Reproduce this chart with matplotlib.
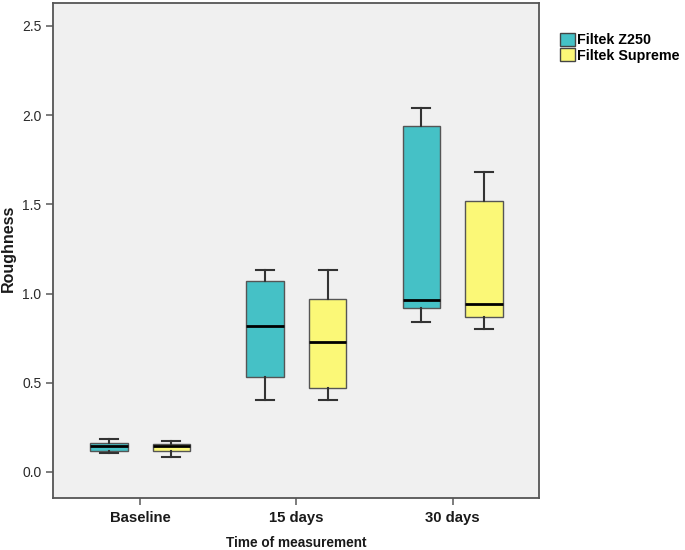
import matplotlib
matplotlib.use("Agg")
import matplotlib.pyplot as plt
from matplotlib.patches import Patch

plt.rcParams['font.family'] = ['Liberation Sans', 'DejaVu Sans']

categories = ["Baseline", "15 days", "30 days"]
series = ["Filtek Z250", "Filtek Supreme"]
colors = ["#45C1C6", "#FBF877"]

# per-category stats: (whislo, q1, med, q3, whishi)
z250 = [
    (0.105, 0.12, 0.145, 0.165, 0.185),
    (0.404, 0.533, 0.817, 1.071, 1.132),
    (0.842, 0.921, 0.966, 1.941, 2.042),
]
supreme = [
    (0.085, 0.12, 0.148, 0.157, 0.175),
    (0.404, 0.473, 0.727, 0.971, 1.132),
    (0.802, 0.871, 0.942, 1.521, 1.682),
]
yticks = [0.0, 0.5, 1.0, 1.5, 2.0, 2.5]

fig = plt.figure(figsize=(6.85, 5.5), dpi=100)
ax = fig.add_axes([0.0778, 0.0945, 0.709, 0.8995])
ax.set_facecolor("#F0F0F0")

offsets = [-0.2, 0.2]
for s_i, data in enumerate([z250, supreme]):
    stats = []
    for vals in data:
        lo, q1, med, q3, hi = vals
        stats.append(dict(whislo=lo, q1=q1, med=med, q3=q3, whishi=hi, fliers=[]))
    pos = [i + offsets[s_i] for i in range(len(categories))]
    ax.bxp(stats, positions=pos, widths=0.24, patch_artist=True, showfliers=False,
           boxprops=dict(facecolor=colors[s_i], edgecolor="#555555", linewidth=1.0),
           medianprops=dict(color="black", linewidth=2.0),
           whiskerprops=dict(color="#333333", linewidth=1.5),
           capprops=dict(color="#333333", linewidth=1.5),
           capwidths=0.115, manage_ticks=False)

ax.set_xlim(-0.555, 2.553)
ax.set_ylim(-0.146, 2.627)
ax.set_xticks(range(len(categories)))
ax.set_xticklabels(categories, fontsize=10.7, fontweight="bold", color="#1a1a1a")
ax.set_yticks(yticks)
ax.set_yticklabels([f"{v:.1f}" for v in yticks], fontsize=10, color="#2a2a2a")
ax.tick_params(axis="both", direction="out", length=5, width=1.2, color="#666666")
ax.tick_params(axis="x", pad=4)
for sp in ax.spines.values():
    sp.set_color("#555555")
    sp.set_linewidth(1.3)

ax.set_ylabel("Roughness", fontsize=11.5, fontweight="bold", color="#1a1a1a")
ax.yaxis.set_label_coords(-0.0766, 0.505)
ax.set_xlabel("Time of measurement", fontsize=9.8, fontweight="bold", color="#1a1a1a", labelpad=8)

handles = [Patch(facecolor=c, edgecolor="#444444", linewidth=1.0) for c in colors]
fig.legend(handles, series, loc="upper left", bbox_to_anchor=(0.818, 0.94),
           frameon=False, prop=dict(weight="bold", size=10.3), handlelength=1.0,
           handleheight=1.0, handletextpad=0.2, labelspacing=0.08, borderaxespad=0,
           borderpad=0)

fig.savefig("out.png", dpi=100)
